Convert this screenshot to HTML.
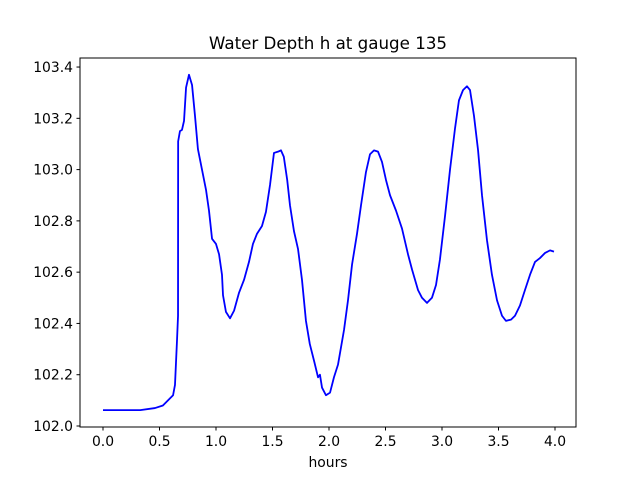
<!DOCTYPE html>
<html><head><meta charset="utf-8"><style>
body{margin:0;background:#fff}
svg text{font-family:"DejaVu Sans","Liberation Sans",sans-serif;fill:#000}
</style></head><body>
<svg id="chart" width="640" height="480" xmlns="http://www.w3.org/2000/svg">
<rect width="640" height="480" fill="#fff"/>
<text x="328" y="49" font-size="16.7" text-anchor="middle">Water Depth h at gauge 135</text>
<g id="plot"></g>
<rect x="80" y="58" width="496" height="369" fill="none" stroke="#000" stroke-width="1"/>
<text x="328" y="467" font-size="13.9" text-anchor="middle">hours</text>
</svg>
<script>
const xTicks=[0,0.5,1,1.5,2,2.5,3,3.5,4];
const yTicks=[102.0,102.2,102.4,102.6,102.8,103.0,103.2,103.4];
const hours=[0,0.33,0.46,0.53,0.575,0.62,0.637,0.655,0.664,0.665,0.681,0.699,0.717,0.735,0.761,0.788,0.814,0.84,0.876,0.912,0.938,0.965,1.0,1.027,1.053,1.062,1.088,1.124,1.16,1.204,1.248,1.292,1.327,1.363,1.407,1.442,1.478,1.513,1.549,1.575,1.6,1.63,1.655,1.69,1.726,1.761,1.796,1.83,1.87,1.903,1.92,1.938,1.973,2.009,2.044,2.08,2.133,2.168,2.204,2.248,2.283,2.327,2.363,2.398,2.434,2.469,2.504,2.54,2.593,2.646,2.699,2.735,2.788,2.823,2.867,2.911,2.947,2.982,3.027,3.071,3.115,3.15,3.186,3.221,3.248,3.283,3.319,3.354,3.398,3.442,3.487,3.531,3.566,3.611,3.646,3.69,3.734,3.779,3.823,3.867,3.912,3.956,3.991];
const depth=[102.062,102.062,102.07,102.08,102.10,102.12,102.16,102.335,102.43,103.11,103.15,103.155,103.19,103.32,103.37,103.33,103.21,103.08,103.0,102.92,102.84,102.73,102.71,102.67,102.59,102.51,102.445,102.42,102.45,102.52,102.57,102.64,102.71,102.75,102.78,102.835,102.94,103.065,103.07,103.075,103.05,102.96,102.86,102.76,102.69,102.57,102.41,102.32,102.25,102.19,102.2,102.15,102.12,102.13,102.19,102.24,102.375,102.49,102.63,102.75,102.86,102.99,103.06,103.075,103.07,103.03,102.96,102.9,102.84,102.77,102.67,102.61,102.53,102.5,102.48,102.5,102.55,102.65,102.82,103.0,103.16,103.27,103.31,103.325,103.31,103.21,103.076,102.9,102.725,102.59,102.49,102.43,102.41,102.415,102.43,102.47,102.53,102.59,102.64,102.655,102.675,102.685,102.68];
const X=v=>103+v*113;
const Y=v=>426-(v-102)*256.4;
const NS="http://www.w3.org/2000/svg";
const g=document.getElementById('plot');
function mk(t,a){const e=document.createElementNS(NS,t);for(const k in a)e.setAttribute(k,a[k]);g.appendChild(e);return e;}
xTicks.forEach(t=>{
  const l=mk('line',{x1:X(t),x2:X(t),y1:427,y2:430.5,stroke:'#000'});
  
  
  const tx=mk('text',{x:X(t),y:446,'font-size':13.9,'text-anchor':'middle'});
  tx.textContent=t.toFixed(1);
  
  
});
yTicks.forEach(t=>{
  const l=mk('line',{x1:76.5,x2:80,y1:Y(t),y2:Y(t),stroke:'#000'});
  
  
  const tx=mk('text',{x:73,y:Y(t)+5,'font-size':13.9,'text-anchor':'end'});
  tx.textContent=t.toFixed(1);
  
  
});
const p=mk('polyline',{points:hours.map((h,i)=>X(h)+','+Y(depth[i])).join(' '),fill:'none',stroke:'#0000ff','stroke-width':1.8,'stroke-linejoin':'round'});


</script>
</body></html>
